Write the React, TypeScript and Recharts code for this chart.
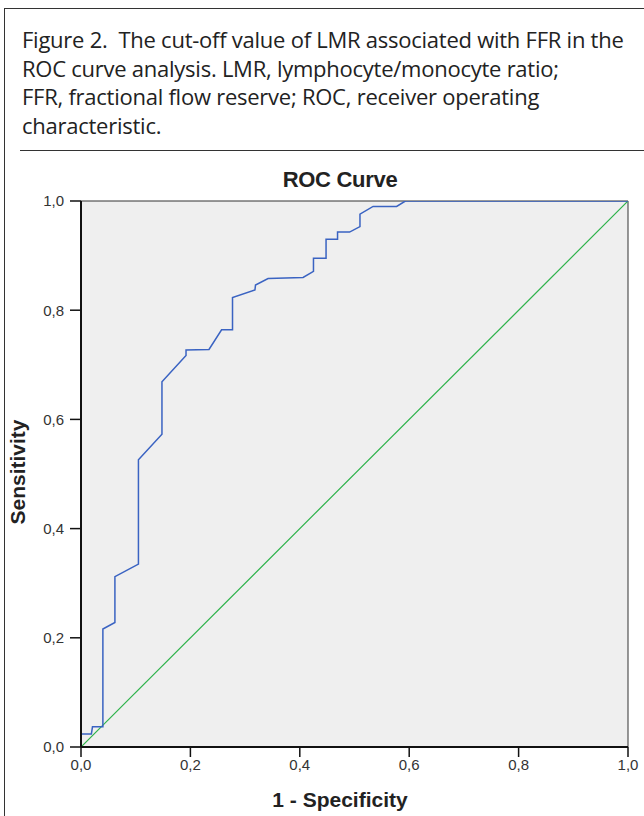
import React from "react";
import { LineChart, Line, XAxis, YAxis, ReferenceArea } from "recharts";

// ROC points: 1 - specificity / sensitivity
const FPR = [0, 0, 0.019, 0.021, 0.04, 0.04, 0.062, 0.062, 0.105, 0.105, 0.148, 0.148, 0.192, 0.192, 0.234, 0.257, 0.277, 0.277, 0.318, 0.319, 0.342, 0.406, 0.425, 0.425, 0.448, 0.448, 0.469, 0.469, 0.491, 0.51, 0.51, 0.534, 0.577, 0.593, 1];
const TPR = [0, 0.024, 0.024, 0.037, 0.037, 0.216, 0.228, 0.312, 0.335, 0.526, 0.573, 0.669, 0.717, 0.727, 0.728, 0.764, 0.764, 0.823, 0.837, 0.846, 0.858, 0.86, 0.871, 0.895, 0.895, 0.93, 0.93, 0.943, 0.943, 0.953, 0.976, 0.99, 0.99, 1, 1];
const REF_X = [0, 1];
const REF_Y = [0, 1];
const TICKS = [0, 0.2, 0.4, 0.6, 0.8, 1];

const CAPTION = [
  "Figure 2.  The cut-off value of LMR associated with FFR in the",
  "ROC curve analysis. LMR, lymphocyte/monocyte ratio;",
  "FFR, fractional flow reserve; ROC, receiver operating",
  "characteristic.",
];

const roc = FPR.map((x, i) => ({ x, y: TPR[i] }));
const diag = REF_X.map((x, i) => ({ x, y: REF_Y[i] }));

const fmt = (v: number) => v.toFixed(1).replace(".", ",");
const ARIAL = "'Liberation Sans', Arial, sans-serif";

export default function App() {
  return (
    <div style={{ position: "absolute", left: 0, top: 0, width: 644, height: 816, background: "#fff", overflow: "hidden" }}>
      {/* frame */}
      <div style={{ position: "absolute", left: 4, top: 8, width: 650, height: 820, borderLeft: "1.5px solid #333", borderTop: "1.5px solid #333" }} />
      <div style={{ position: "absolute", left: 20, top: 150, width: 630, borderTop: "1.5px solid #333" }} />

      {/* caption */}
      <div style={{ position: "absolute", left: 22, top: 25, fontFamily: "'Open Sans', sans-serif", fontSize: 22, lineHeight: "28.5px", color: "#222", letterSpacing: -0.25, whiteSpace: "pre" }}>
        {CAPTION.map((l) => <div key={l}>{l}</div>)}
      </div>

      <div style={{ position: "absolute", left: 0, top: 167, width: 644, textAlign: "center", paddingLeft: 36, boxSizing: "border-box", fontFamily: ARIAL, fontWeight: 700, fontSize: 22, color: "#222", letterSpacing: -0.3 }}>
        ROC Curve
      </div>
      <div style={{ position: "absolute", left: 18, top: 472, transform: "translate(-50%, -50%) rotate(-90deg)", fontFamily: ARIAL, fontWeight: 700, fontSize: 21, color: "#222", whiteSpace: "nowrap" }}>
        Sensitivity
      </div>
      <div style={{ position: "absolute", left: 0, top: 788, width: 644, textAlign: "center", paddingLeft: 36, boxSizing: "border-box", fontFamily: ARIAL, fontWeight: 700, fontSize: 21, color: "#222" }}>
        1 - Specificity
      </div>

      <div style={{ position: "absolute", left: 0, top: 150 }}>
        <LineChart width={644} height={666} margin={{ top: 51, right: 16, bottom: 39, left: 21 }}>
          <XAxis type="number" dataKey="x" domain={[0, 1]} ticks={TICKS} tickFormatter={fmt} height={30}
            axisLine={{ stroke: "#111", strokeWidth: 2 }} tickLine={{ stroke: "#111", strokeWidth: 1.5 }} tickSize={10} tickMargin={2}
            tick={{ fill: "#333", fontSize: 15, fontFamily: ARIAL }} allowDataOverflow />
          <YAxis type="number" dataKey="y" domain={[0, 1]} ticks={TICKS} tickFormatter={fmt} width={60}
            axisLine={{ stroke: "#111", strokeWidth: 2 }} tickLine={{ stroke: "#111", strokeWidth: 1.5 }} tickSize={11} tickMargin={6}
            tick={{ fill: "#333", fontSize: 15, fontFamily: ARIAL }} allowDataOverflow />
          <ReferenceArea x1={0} x2={1} y1={0} y2={1} fill="#efefef" fillOpacity={1} stroke="#333" strokeWidth={1} />
          <Line data={diag} dataKey="y" type="linear" stroke="#2db24a" strokeWidth={1.2} dot={false} isAnimationActive={false} />
          <Line data={roc} dataKey="y" type="linear" stroke="#3a63c2" strokeWidth={1.5} dot={false} isAnimationActive={false} />
        </LineChart>
      </div>
    </div>
  );
}
